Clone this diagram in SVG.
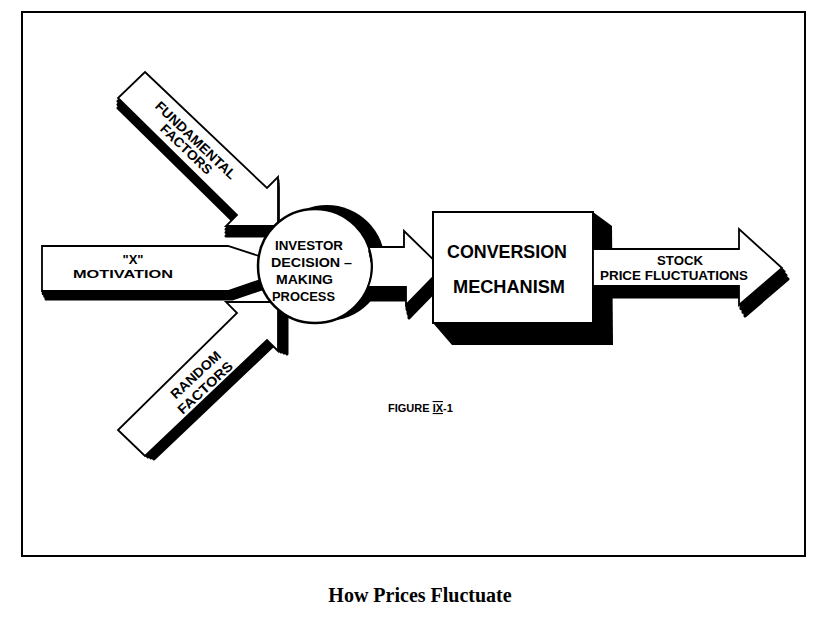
<svg xmlns="http://www.w3.org/2000/svg" xmlns:xlink="http://www.w3.org/1999/xlink" width="830" height="640" viewBox="0 0 830 640">
<style>
.sh{fill:#000;stroke:#000;stroke-width:3;stroke-linejoin:round}
.body{fill:#fff;stroke:#000;stroke-width:1.8;stroke-linejoin:miter}
.lbl{font-family:"Liberation Sans",Arial,sans-serif;font-weight:bold;fill:#000}
</style>
<defs>
<path id="fund-shape" d="M145,72 L267,188 L278,177 L278,226 L226,226 L237,215 L118,98 Z"/>
<path id="rand-shape" d="M118,430 L145,456 L267,340 L278,351 L278,302 L226,302 L237,313 Z"/>
<path id="mot-shape" d="M42,246 L228,246 L296,268 L228,291 L42,291 Z"/>
<path id="mid-shape" d="M368.7,247 L404,247 L404,231 L442,268 L406,305 L406,287 L368,287 A57,57 0 0 0 368.7,247 Z"/>
<path id="out-shape" d="M593,249 L739,249 L739,229 L782,268 L739,305 L739,286 L593,286 Z"/>
</defs>
<rect id="frame" x="22" y="12" width="783" height="544" fill="none" stroke="#000" stroke-width="2"/>

<g id="x-motivation">
<use xlink:href="#mot-shape" class="sh" transform="translate(1.3,2.7)"/>
<use xlink:href="#mot-shape" class="sh" transform="translate(2.7,5.3)"/>
<use xlink:href="#mot-shape" class="sh" transform="translate(4,8)"/>
<use xlink:href="#mot-shape" class="body"/>
<text class="lbl" x="133" y="264" font-size="13" text-anchor="middle">"X"</text>
<text class="lbl" x="123" y="278" font-size="11.5" text-anchor="middle" textLength="100" lengthAdjust="spacingAndGlyphs">MOTIVATION</text>
</g>

<g id="fundamental-factors">
<use xlink:href="#fund-shape" class="sh" transform="translate(0,3.3)"/>
<use xlink:href="#fund-shape" class="sh" transform="translate(0,6.6)"/>
<use xlink:href="#fund-shape" class="sh" transform="translate(0,10)"/>
<use xlink:href="#fund-shape" class="body"/>
<text class="lbl" transform="translate(196,140) rotate(43.6)" x="0" y="5" font-size="13.5" text-anchor="middle" textLength="106" lengthAdjust="spacingAndGlyphs">FUNDAMENTAL</text>
<text class="lbl" transform="translate(186.5,149) rotate(43.6)" x="0" y="5" font-size="13.5" text-anchor="middle" textLength="66" lengthAdjust="spacingAndGlyphs">FACTORS</text>
</g>

<g id="random-factors">
<use xlink:href="#rand-shape" class="sh" transform="translate(3,1)"/>
<use xlink:href="#rand-shape" class="sh" transform="translate(6,2)"/>
<use xlink:href="#rand-shape" class="sh" transform="translate(9,3)"/>
<use xlink:href="#rand-shape" class="body"/>
<text class="lbl" transform="translate(195.5,374.5) rotate(-43)" x="0" y="5" font-size="13.5" text-anchor="middle" textLength="63" lengthAdjust="spacingAndGlyphs">RANDOM</text>
<text class="lbl" transform="translate(205,387.5) rotate(-43)" x="0" y="5" font-size="13.5" text-anchor="middle" textLength="70" lengthAdjust="spacingAndGlyphs">FACTORS</text>
</g>

<g id="investor-decision">
<circle cx="327" cy="263" r="58" fill="#000"/>
<circle cx="315" cy="266" r="57" fill="#fff" stroke="#000" stroke-width="2.5"/>
<text class="lbl" x="275" y="250" font-size="13.5" textLength="68" lengthAdjust="spacingAndGlyphs">INVESTOR</text>
<text class="lbl" x="271" y="267" font-size="13.5" textLength="81" lengthAdjust="spacingAndGlyphs">DECISION –</text>
<text class="lbl" x="276" y="284" font-size="13.5" textLength="57" lengthAdjust="spacingAndGlyphs">MAKING</text>
<text class="lbl" x="272" y="301" font-size="13.5" textLength="63" lengthAdjust="spacingAndGlyphs">PROCESS</text>
</g>

<g id="connectors">
<use xlink:href="#mid-shape" class="sh" transform="translate(1,4.3)"/>
<use xlink:href="#mid-shape" class="sh" transform="translate(2,8.6)"/>
<use xlink:href="#mid-shape" class="sh" transform="translate(3,13)"/>
<use xlink:href="#mid-shape" class="body"/>
</g>

<g id="conversion-mechanism">
<polygon points="593,212 612,226 613,345 452,345 433,323" fill="#000"/>
<rect x="433" y="212" width="160" height="111" fill="#fff" stroke="#000" stroke-width="2"/>
<text class="lbl" x="507" y="258" font-size="19" text-anchor="middle" textLength="120" lengthAdjust="spacingAndGlyphs">CONVERSION</text>
<text class="lbl" x="509" y="293" font-size="19" text-anchor="middle" textLength="112" lengthAdjust="spacingAndGlyphs">MECHANISM</text>
</g>

<g id="stock-price-fluctuations">
<use xlink:href="#out-shape" class="sh" transform="translate(2,3.7)"/>
<use xlink:href="#out-shape" class="sh" transform="translate(4,7.3)"/>
<use xlink:href="#out-shape" class="sh" transform="translate(6,11)"/>
<use xlink:href="#out-shape" class="body"/>
<text class="lbl" x="680" y="265" font-size="13" text-anchor="middle" textLength="46" lengthAdjust="spacingAndGlyphs">STOCK</text>
<text class="lbl" x="674" y="280" font-size="13" text-anchor="middle" textLength="148" lengthAdjust="spacingAndGlyphs">PRICE FLUCTUATIONS</text>
</g>

<g id="figure-label">
<text class="lbl" x="388" y="412" font-size="11">FIGURE <tspan text-decoration="underline overline">IX</tspan>-1</text>
</g>

<g id="caption">
<text x="420" y="602" font-family="'Liberation Serif','Times New Roman',serif" font-weight="bold" font-size="20" text-anchor="middle">How Prices Fluctuate</text>
</g>
</svg>
